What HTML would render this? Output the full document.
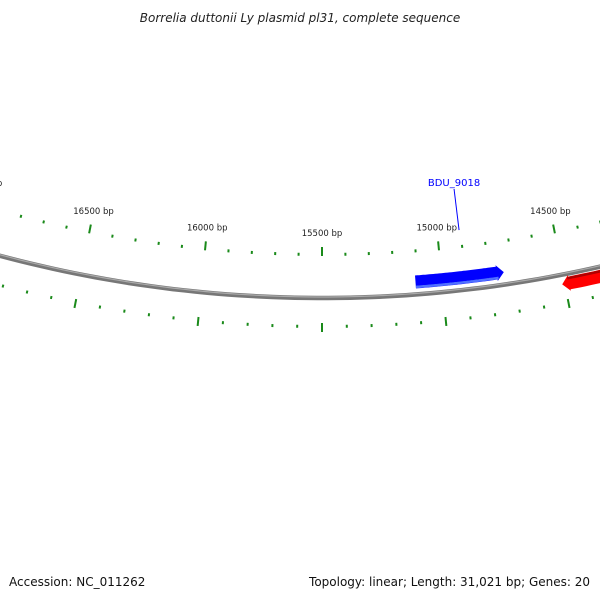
<!DOCTYPE html>
<html><head><meta charset="utf-8"><style>
body{margin:0;background:#fff;}
svg{display:block;font-family:"DejaVu Sans","Liberation Sans",sans-serif;}
</style></head><body>
<svg id="map" width="600" height="600" viewBox="0 0 600 600" xmlns="http://www.w3.org/2000/svg">
<text x="300" y="22" text-anchor="middle" font-size="12" font-style="italic" fill="#222">Borrelia duttonii Ly plasmid pl31, complete sequence</text>
<g id="ticks"></g>
<g id="backbone"></g>
<g id="genes"></g>
<g id="labels"></g>
<text x="9" y="586" font-size="12" fill="#111">Accession: NC_011262</text>
<text x="590" y="586" text-anchor="end" font-size="12" fill="#111">Topology: linear; Length: 31,021 bp; Genes: 20</text>
</svg>
<script>
const geneNames = ["BDU_9018", "red-gene"];
const geneStarts = [14740, 13600];
const geneEnds = [15110, 14511];
const geneStrands = [1, -1];
const geneColors = ["#0000ff", "#ff0000"];
const geneLabelShown = [true, false];
const tickStart = 13000, tickEnd = 18500, tickStep = 100, majorStep = 500;

const NS = "http://www.w3.org/2000/svg";
const cx = 322, cy = -952, refBp = 15500, k = 0.097 / 500;
function ang(bp){ return (bp - refBp) * k; }
function pt(bp, r){ const t = ang(bp); return [cx - r * Math.sin(t), cy + r * Math.cos(t)]; }
function mk(tag, attrs, parent){ const e = document.createElementNS(NS, tag); for (const a in attrs) e.setAttribute(a, attrs[a]); parent.appendChild(e); return e; }

const ticksG = document.getElementById('ticks');
const labelsG = document.getElementById('labels');
for (let bp = tickStart; bp <= tickEnd; bp += tickStep) {
  const major = bp % majorStep === 0;
  const rings = major ? [[1199,1208],[1275,1284]] : [[1205,1208],[1277,1280]];
  rings.forEach(([r1, r2]) => {
    const a = pt(bp, r1), b = pt(bp, r2);
    const l = mk('line', {x1:a[0], y1:a[1], x2:b[0], y2:b[1], stroke:'#1a8a1a', 'stroke-width':2}, ticksG);
    
    
  });
  if (major) {
    const p = pt(bp, 1185);
    const t = mk('text', {x:p[0], y:p[1] + 3, 'text-anchor':'middle', 'font-size':8.5, fill:'#222'}, labelsG);
    t.textContent = bp + ' bp';
    
    
  }
}

// backbone
const bb = document.getElementById('backbone');
function arcPath(b1, b2, r){ let d = ''; for (let i = 0; i <= 120; i++){ const p = pt(b1 + (b2 - b1) * i / 120, r); d += (i ? 'L' : 'M') + p[0].toFixed(1) + ',' + p[1].toFixed(1); } return d; }
const bb1 = mk('path', {d:arcPath(13000, 18500, 1250), fill:'none', stroke:'#777', 'stroke-width':4.5}, bb);


const bb2 = mk('path', {d:arcPath(13000, 18500, 1249), fill:'none', stroke:'#aaa', 'stroke-width':1.2}, bb);



// genes
const genesG = document.getElementById('genes');
function genePoly(s, e, strand, rIn, rOut){
  const head = 30, hw = 1.5;
  const pts = [];
  const tipBp = strand > 0 ? s : e; // blue points toward lower bp (right)
  const baseBp = strand > 0 ? e : s;
  const neckBp = strand > 0 ? tipBp + head : tipBp - head;
  const n = 40;
  for (let i = 0; i <= n; i++) pts.push(pt(baseBp + (neckBp - baseBp) * i / n, rOut));
  pts.push(pt(neckBp, rOut + hw));
  pts.push(pt(tipBp, (rIn + rOut) / 2));
  pts.push(pt(neckBp, rIn - hw));
  for (let i = n; i >= 0; i--) pts.push(pt(baseBp + (neckBp - baseBp) * i / n, rIn));
  return pts.map(p => p[0].toFixed(1) + ',' + p[1].toFixed(1)).join(' ');
}
for (let g = 0; g < geneNames.length; g++) {
  const onInner = geneStrands[g] > 0;
  const rIn = onInner ? 1231 : 1253, rOut = onInner ? 1244 : 1266;
  const grp = mk('g', {}, genesG);
  
  
  const poly = mk('polygon', {points:genePoly(geneStarts[g], geneEnds[g], geneStrands[g], rIn, rOut), fill:geneColors[g]}, grp);
  
  
  const shade = mk('path', {d:arcPath(geneStarts[g] + (geneStrands[g] > 0 ? 25 : 0), geneEnds[g] - (geneStrands[g] < 0 ? 25 : 0), onInner ? rOut - 1.5 : rIn + 1.5), fill:'none', stroke: onInner ? '#5070ff' : '#b00000', 'stroke-width':2.5}, grp);
  
  
  if (geneLabelShown[g]) {
    const mid = (geneStarts[g] + geneEnds[g]) / 2;
    const a = pt(mid - 20, 1190);
    const lx = a[0] - 5, ly = 189;
    const ln = mk('line', {x1:a[0], y1:a[1], x2:lx, y2:ly, stroke:'#0000ff', 'stroke-width':1}, grp);
    
    
    const t = mk('text', {x:lx, y:186, 'text-anchor':'middle', 'font-size':10, fill:'#0000ff'}, grp);
    t.textContent = geneNames[g];
    
    
  }
}
</script>
</body></html>
